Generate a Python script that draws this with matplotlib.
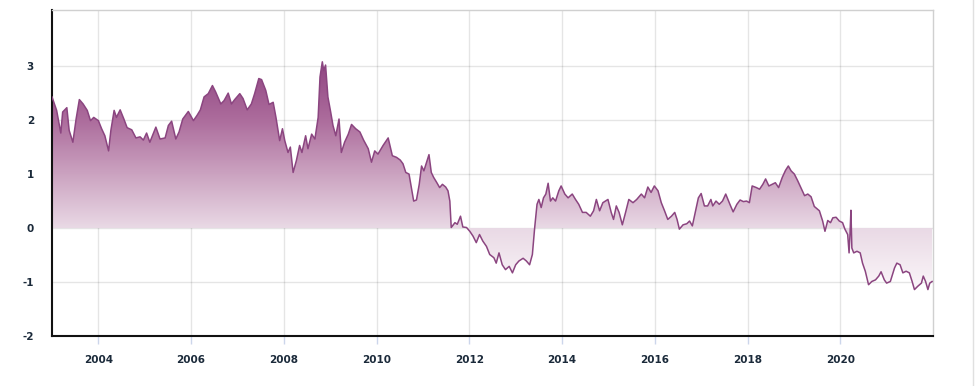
import numpy as np
import matplotlib
matplotlib.use('Agg')
import matplotlib.pyplot as plt
from matplotlib.colors import LinearSegmentedColormap
from matplotlib.path import Path
from matplotlib.patches import PathPatch
from matplotlib.lines import Line2D

# decimal year / value
years = [
    2003.00, 2003.10, 2003.19, 2003.23, 2003.32, 2003.37, 2003.45, 2003.52, 2003.59, 2003.67,
    2003.76, 2003.83, 2003.90, 2004.00, 2004.07, 2004.14, 2004.22, 2004.27, 2004.34, 2004.39,
    2004.47, 2004.55, 2004.62, 2004.72, 2004.81, 2004.90, 2004.97, 2005.04, 2005.11, 2005.24,
    2005.33, 2005.44, 2005.51, 2005.58, 2005.67, 2005.74, 2005.82, 2005.94, 2006.05, 2006.13,
    2006.20, 2006.28, 2006.37, 2006.46, 2006.53, 2006.64, 2006.71, 2006.80, 2006.87, 2006.94,
    2007.05, 2007.12, 2007.21, 2007.30, 2007.37, 2007.46, 2007.52, 2007.61, 2007.68, 2007.77,
    2007.83, 2007.91, 2007.97, 2008.02, 2008.09, 2008.14, 2008.20, 2008.27, 2008.34, 2008.39,
    2008.47, 2008.52, 2008.60, 2008.67, 2008.74, 2008.78, 2008.83, 2008.86, 2008.90, 2008.95,
    2009.01, 2009.06, 2009.12, 2009.19, 2009.24, 2009.31, 2009.39, 2009.46, 2009.55, 2009.64,
    2009.72, 2009.82, 2009.89, 2009.96, 2010.03, 2010.14, 2010.25, 2010.34, 2010.43, 2010.51,
    2010.57, 2010.63, 2010.70, 2010.75, 2010.80, 2010.86, 2010.92, 2010.97, 2011.02, 2011.08,
    2011.13, 2011.18, 2011.23, 2011.30, 2011.36, 2011.42, 2011.49, 2011.54, 2011.58, 2011.61,
    2011.69, 2011.74, 2011.81, 2011.86, 2011.94, 2012.01, 2012.08, 2012.15, 2012.22, 2012.29,
    2012.37, 2012.44, 2012.53, 2012.58, 2012.64, 2012.71, 2012.78, 2012.86, 2012.93, 2013.00,
    2013.07, 2013.16, 2013.23, 2013.30, 2013.36, 2013.41, 2013.46, 2013.50, 2013.55, 2013.60,
    2013.65, 2013.70, 2013.75, 2013.80, 2013.86, 2013.93, 2013.98, 2014.06, 2014.13, 2014.22,
    2014.29, 2014.36, 2014.44, 2014.52, 2014.61, 2014.68, 2014.74, 2014.81, 2014.88, 2014.99,
    2015.06, 2015.11, 2015.17, 2015.23, 2015.30, 2015.37, 2015.44, 2015.53, 2015.61, 2015.71,
    2015.78, 2015.85, 2015.92, 2015.99, 2016.07, 2016.14, 2016.21, 2016.28, 2016.36, 2016.43,
    2016.48, 2016.53, 2016.61, 2016.69, 2016.75, 2016.81, 2016.88, 2016.94, 2017.00, 2017.07,
    2017.14, 2017.21, 2017.25, 2017.32, 2017.39, 2017.46, 2017.53, 2017.62, 2017.69, 2017.77,
    2017.84, 2017.91, 2017.98, 2018.04, 2018.10, 2018.19, 2018.26, 2018.33, 2018.39, 2018.46,
    2018.53, 2018.60, 2018.67, 2018.75, 2018.82, 2018.88, 2018.94, 2019.01, 2019.08, 2019.15,
    2019.23, 2019.30, 2019.37, 2019.44, 2019.55, 2019.62, 2019.67, 2019.73, 2019.79, 2019.84,
    2019.91, 2019.98, 2020.05, 2020.10, 2020.16, 2020.19, 2020.21, 2020.23, 2020.25, 2020.29,
    2020.36, 2020.43, 2020.48, 2020.54, 2020.61, 2020.68, 2020.76, 2020.83, 2020.88, 2020.95,
    2021.00, 2021.08, 2021.17, 2021.22, 2021.29, 2021.35, 2021.42, 2021.49, 2021.55, 2021.60,
    2021.67, 2021.75, 2021.79, 2021.84, 2021.89, 2021.93, 2021.98,
]
values = [
    2.43, 2.18, 1.76, 2.15, 2.23, 1.81, 1.59, 2.02, 2.38, 2.30,
    2.18, 1.99, 2.05, 1.99, 1.84, 1.71, 1.43, 1.81, 2.18, 2.05,
    2.19, 2.02, 1.86, 1.82, 1.67, 1.69, 1.63, 1.76, 1.59, 1.87,
    1.65, 1.67, 1.90, 1.98, 1.65, 1.78, 2.02, 2.16, 1.99, 2.09,
    2.19, 2.43, 2.49, 2.64, 2.52, 2.30, 2.36, 2.50, 2.30, 2.38,
    2.49, 2.40, 2.19, 2.30, 2.49, 2.77, 2.75, 2.55, 2.29, 2.33,
    2.05, 1.62, 1.84, 1.62, 1.40, 1.50, 1.03, 1.25, 1.53, 1.40,
    1.71, 1.47, 1.74, 1.65, 2.05, 2.80, 3.08, 2.92, 3.02, 2.43,
    2.15, 1.90, 1.71, 2.02, 1.40, 1.59, 1.74, 1.92, 1.84, 1.78,
    1.63, 1.47, 1.22, 1.43, 1.37, 1.53, 1.67, 1.34, 1.31, 1.26,
    1.19, 1.03, 1.00, 0.75, 0.50, 0.52, 0.81, 1.15, 1.06, 1.22,
    1.36, 1.03, 0.94, 0.84, 0.75, 0.81, 0.76, 0.69, 0.50, 0.01,
    0.10, 0.07, 0.22, 0.02, 0.01, -0.06, -0.15, -0.27, -0.12, -0.24,
    -0.34, -0.49, -0.55, -0.65, -0.46, -0.68, -0.77, -0.71, -0.83, -0.68,
    -0.61, -0.56, -0.61, -0.68, -0.49, 0.01, 0.44, 0.53, 0.38, 0.56,
    0.63, 0.83, 0.50, 0.56, 0.50, 0.69, 0.78, 0.63, 0.56, 0.63,
    0.53, 0.44, 0.29, 0.29, 0.22, 0.32, 0.53, 0.32, 0.47, 0.53,
    0.29, 0.16, 0.41, 0.29, 0.06, 0.29, 0.53, 0.47, 0.53, 0.63,
    0.56, 0.76, 0.66, 0.78, 0.69, 0.47, 0.32, 0.16, 0.22, 0.29,
    0.16, -0.02, 0.06, 0.08, 0.13, 0.04, 0.32, 0.56, 0.64, 0.41,
    0.41, 0.53, 0.41, 0.50, 0.44, 0.50, 0.63, 0.44, 0.30, 0.44,
    0.52, 0.49, 0.50, 0.47, 0.78, 0.75, 0.72, 0.81, 0.91, 0.78,
    0.81, 0.84, 0.75, 0.94, 1.07, 1.15, 1.06, 1.00, 0.88, 0.75,
    0.60, 0.63, 0.58, 0.40, 0.32, 0.13, -0.06, 0.14, 0.10, 0.19,
    0.20, 0.13, 0.10, -0.02, -0.12, -0.46, -0.12, 0.33, -0.37, -0.46,
    -0.43, -0.46, -0.65, -0.80, -1.05, -0.99, -0.96, -0.89, -0.81, -0.96,
    -1.02, -0.99, -0.74, -0.65, -0.68, -0.83, -0.80, -0.83, -0.99, -1.14,
    -1.08, -1.02, -0.89, -0.99, -1.14, -1.02, -0.99,
]
x_ticks = [2004, 2006, 2008, 2010, 2012, 2014, 2016, 2018, 2020]
y_ticks = [-2, -1, 0, 1, 2, 3]

LINE = '#8b4580'
TXT = '#1b2a3a'

x = np.array(years)
y = np.array(values)

fig = plt.figure(figsize=(9.75, 3.86), dpi=100)
ax = fig.add_axes([52 / 975, 50 / 386, 881 / 975, 326 / 386])

# gradient fill between the series and zero (stops given in data units)
g_lo, g_hi = -1.3, 3.15
stops = [(-1.3, '#fdfafc'), (0.0, '#e9d9e5'), (1.0, '#cba2c0'), (2.0, '#ac6c9c'), (3.15, '#8e4280')]
cmap = LinearSegmentedColormap.from_list(
    'g', [((v - g_lo) / (g_hi - g_lo), c) for v, c in stops])
grad = np.linspace(0, 1, 256).reshape(-1, 1)
im = ax.imshow(grad, extent=[2003.0, 2022.0, g_lo, g_hi], origin='lower',
               aspect='auto', cmap=cmap, zorder=2)
verts = np.vstack([[x[0], 0.0], np.column_stack([x, y]), [x[-1], 0.0]])
clip = PathPatch(Path(verts), facecolor='none', edgecolor='none', transform=ax.transData)
ax.add_patch(clip)
im.set_clip_path(clip)
ax.set_xlim(2003.0, 2022.0)
ax.set_ylim(-2.0, 4.04)

ax.plot(x, y, color=LINE, lw=1.1, zorder=3)

ax.set_xticks(x_ticks)
ax.set_xticklabels([str(t) for t in x_ticks])
ax.set_yticks(y_ticks)
ax.set_yticklabels([str(t) for t in y_ticks])
# grid shows faintly through the fill
ax.grid(True, color='black', alpha=0.1, lw=1.0)
for gl in ax.get_xgridlines() + ax.get_ygridlines():
    gl.set_zorder(2.5)

for lab in ax.get_xticklabels() + ax.get_yticklabels():
    lab.set_fontweight('bold')
    lab.set_fontsize(7.5)
    lab.set_color(TXT)
ax.tick_params(axis='x', length=6, width=1, color='#ccd6eb', pad=8)
ax.tick_params(axis='y', length=0, pad=13)

ax.spines['left'].set_color('#111111')
ax.spines['left'].set_linewidth(1.5)
ax.spines['bottom'].set_color('#111111')
ax.spines['bottom'].set_linewidth(1.5)
for s in ('top', 'right'):
    ax.spines[s].set_color('#d0d0d0')
    ax.spines[s].set_linewidth(1.0)

# faint page border at the right edge
fig.add_artist(Line2D([0.998, 0.998], [0.0, 1.0], transform=fig.transFigure,
                      color='#e0e0e0', lw=1.0))

fig.savefig('out.png', dpi=100)
